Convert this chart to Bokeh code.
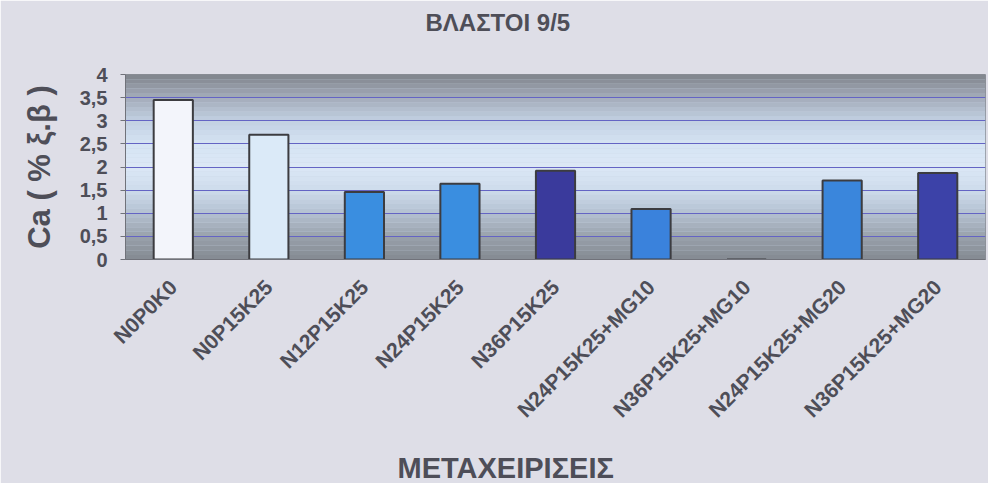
import numpy as np
from bokeh.plotting import figure
from bokeh.models import (ColumnDataSource, FactorRange, Range1d, FixedTicker, BoxAnnotation,
                          CustomJSTickFormatter, Title)
from bokeh.embed import file_html
from bokeh.resources import INLINE
from math import pi

categories = ["N0P0K0", "N0P15K25", "N12P15K25", "N24P15K25", "N36P15K25",
              "N24P15K25+MG10", "N36P15K25+MG10", "N24P15K25+MG20", "N36P15K25+MG20"]
values = [3.45, 2.70, 1.46, 1.64, 1.92, 1.09, 0.0, 1.71, 1.87]
colors = ["#f3f5fb", "#dbeaf8", "#3a8ee0", "#3a8ee0", "#3a3a9c",
          "#3a82dc", "#3a8ee0", "#3a86dc", "#3c42a8"]
y_ticks = [0, 0.5, 1, 1.5, 2, 2.5, 3, 3.5, 4]

title_text = "ΒΛΑΣΤΟΙ 9/5"
x_title = "ΜΕΤΑΧΕΙΡΙΣΕΙΣ"
y_title = "Ca ( % ξ.β )"

FONT = "Liberation Sans"
TXT = "#4e4e58"

src = ColumnDataSource(dict(cat=categories, val=values, col=colors))

p = figure(width=988, height=483, output_backend="svg", toolbar_location=None,
           x_range=FactorRange(*categories, range_padding=0), y_range=Range1d(0, 4),
           min_border_left=125, min_border_right=3, min_border_top=74, min_border_bottom=223)

p.background_fill_color = "#c8d4e4"
p.border_fill_color = "#dedee7"
p.outline_line_color = "#8a8e96"

# plot-area gradient (decorative)
stops_y = [0.0, 0.5, 1.0, 1.5, 2.0, 2.5, 3.0, 3.5, 4.0]
stops_c = np.array([[0x84, 0x8a, 0x92], [0x9a, 0xa2, 0xac], [0xb4, 0xc1, 0xd1],
                    [0xce, 0xdc, 0xec], [0xdc, 0xe8, 0xf6], [0xd6, 0xe4, 0xf4],
                    [0xc2, 0xd0, 0xe2], [0xa4, 0xac, 0xba], [0x80, 0x84, 0x8c]], dtype=float)
edges = np.linspace(0, 4, 41)
for a, b in zip(edges[:-1], edges[1:]):
    m = (a + b) / 2
    rgb = [int(np.interp(m, stops_y, stops_c[:, k])) for k in range(3)]
    p.add_layout(BoxAnnotation(bottom=a, top=b, fill_color="#%02x%02x%02x" % tuple(rgb),
                               fill_alpha=1.0, line_color=None, level="image"))

p.vbar(x="cat", top="val", width=0.41, source=src, fill_color="col",
       line_color="#3c3c40", line_width=2)

xa = p.xaxis[0]
xa.axis_line_color = "#70727a"
xa.major_tick_line_color = None
xa.minor_tick_line_color = None
xa.major_label_orientation = pi / 4
xa.major_label_standoff = 18
xa.major_label_text_font = FONT
xa.major_label_text_font_style = "bold"
xa.major_label_text_font_size = "21px"
xa.major_label_text_color = TXT

ya = p.yaxis[0]
ya.ticker = FixedTicker(ticks=y_ticks)
ya.formatter = CustomJSTickFormatter(code="return tick.toString().replace('.', ',');")
ya.major_label_text_font = FONT
ya.major_label_text_font_style = "bold"
ya.major_label_text_font_size = "20px"
ya.major_label_text_color = TXT
ya.major_label_standoff = 13
ya.major_tick_in = 0
ya.major_tick_out = 5
ya.minor_tick_line_color = None
ya.axis_line_color = "#70727a"
ya.major_tick_line_color = "#70727a"
ya.axis_label = y_title
ya.axis_label_text_font = FONT
ya.axis_label_text_font_style = "bold"
ya.axis_label_text_font_size = "31px"
ya.axis_label_text_color = TXT
ya.axis_label_standoff = 20

p.xgrid.grid_line_color = None
p.ygrid.grid_line_color = "#6464c4"
p.ygrid.grid_line_width = 1
p.ygrid.ticker = FixedTicker(ticks=y_ticks)

# chart title (spacer panel nearest the frame, then the title)
p.add_layout(Title(text=" ", text_font_size="29px", standoff=0), "above")
p.add_layout(Title(text=title_text, align="left", offset=300, standoff=10,
                   text_font=FONT, text_font_style="bold", text_font_size="24px",
                   text_color=TXT), "above")

# x-axis title (spacer below the tick labels, then the title)
p.add_layout(Title(text=" ", text_font_size="13px", standoff=0), "below")
p.add_layout(Title(text=x_title, align="left", offset=272, standoff=0,
                   text_font=FONT, text_font_style="bold", text_font_size="29px",
                   text_color=TXT), "below")

open("out.html", "w").write(file_html(p, INLINE))
